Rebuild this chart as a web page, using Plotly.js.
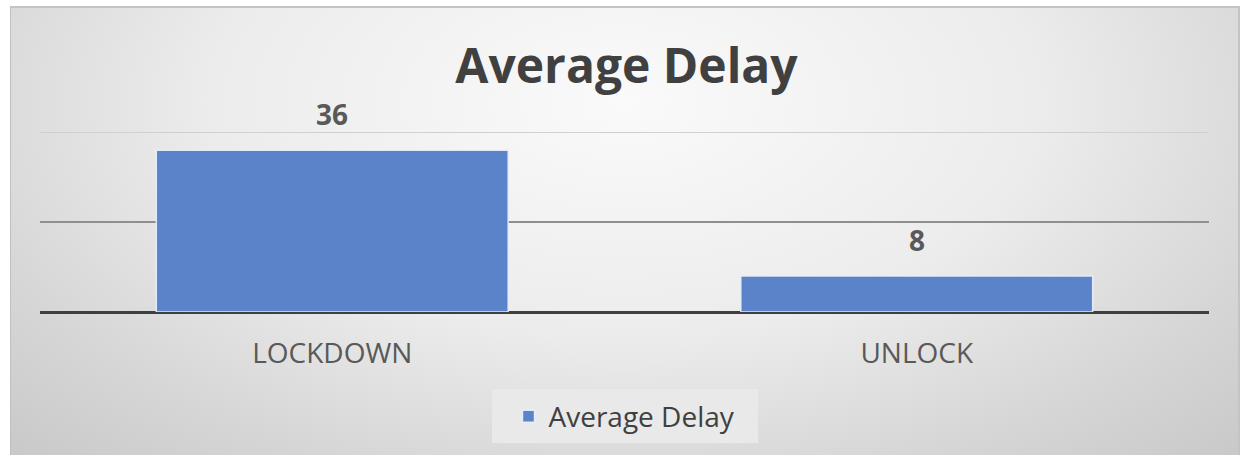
<!DOCTYPE html>
<html>
<head>
<meta charset="utf-8">
<script src="https://cdn.plot.ly/plotly-3.0.1.min.js"></script>
<style>
html, body { margin:0; padding:0; background:#ffffff; width:1253px; height:455px; overflow:hidden; }
#bg { position:absolute; left:10px; top:6px; width:1227px; height:470px;
  border-left:1px solid #c0c0c0; border-top:2px solid #c4c4c4; border-right:2px solid #c4c4c4;
  background: radial-gradient(ellipse 75% 110% at 50% 20%, #fafafa 0%, #ececec 45%, #d6d6d6 75%, #c6c6c6 100%); }
#chart { position:absolute; left:0; top:0; width:1253px; height:455px; }
</style>
</head>
<body>
<div id="bg"></div>
<div id="chart"></div>
<script>
const categories = ["LOCKDOWN", "UNLOCK"];
const seriesName = "Average Delay";
const values = [36, 8];
const chartTitle = "Average Delay";

const trace = {
  type: "bar",
  x: categories,
  y: values,
  name: seriesName,
  marker: { color: "#5b83c9", line: { color: "rgba(235,240,250,0.9)", width: 1.5 } },
  width: 0.602,
  showlegend: true,
  hoverinfo: "x+y"
};

const annotations = categories.map((c, i) => ({
  x: c, y: values[i], xref: "x", yref: "y",
  text: "<b>" + values[i] + "</b>", showarrow: false,
  yanchor: "bottom", yshift: 15,
  font: { family: "Open Sans, sans-serif", size: 28, color: "#595959" }
}));

const layout = {
  width: 1253, height: 455,
  paper_bgcolor: "rgba(0,0,0,0)",
  plot_bgcolor: "rgba(0,0,0,0)",
  margin: { l: 40, r: 44, t: 130, b: 143 },
  title: { text: "<b>" + chartTitle + "</b>", x: 0.5, xanchor: "center", y: 0.855, yanchor: "middle",
    font: { family: "Open Sans, sans-serif", size: 48, color: "#404040" } },
  xaxis: { type: "category", showgrid: false, zeroline: false, showline: false, ticks: "",
    tickfont: { family: "Open Sans, sans-serif", size: 28, color: "#595959" }, ticklabelstandoff: 22 },
  yaxis: { range: [0, 40.5], tickvals: [0, 20], showticklabels: false, showgrid: true,
    gridcolor: "#8f8f8f", gridwidth: 2, zeroline: true, zerolinecolor: "#3f3f3f", zerolinewidth: 3,
    minor: { tickvals: [40], showgrid: true, gridcolor: "#d0d0d0", gridwidth: 1.5, ticks: "" },
    fixedrange: true },
  bargap: 0.4,
  legend: { orientation: "h", x: 0.5, xanchor: "center", y: -0.575, yanchor: "middle",
    bgcolor: "rgba(0,0,0,0)", borderwidth: 0,
    font: { family: "Open Sans, sans-serif", size: 28, color: "#404040" } },
  shapes: [{ type: "rect", xref: "paper", yref: "paper", layer: "below",
    x0: 0.3867, x1: 0.6142, y0: -0.72, y1: -0.423,
    fillcolor: "#e9e9e9", line: { width: 0 } }],
  annotations: annotations
};

Plotly.newPlot("chart", [trace], layout, { displayModeBar: false, staticPlot: true });
</script>
</body>
</html>
